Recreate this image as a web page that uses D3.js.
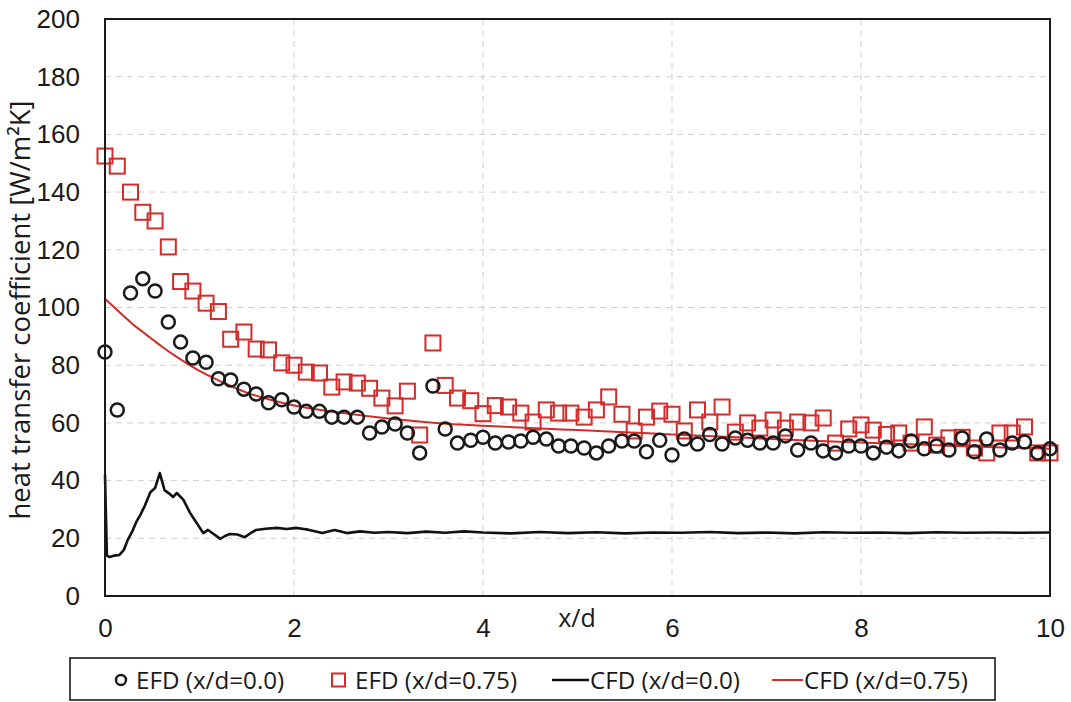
<!DOCTYPE html>
<html>
<head>
<meta charset="utf-8">
<script src="https://cdn.jsdelivr.net/npm/d3@7"></script>
<style>
  body { margin: 0; background: #fff; }
  svg { font-family: "Open Sans", Lato, sans-serif; }
  .grid line { stroke: #d0d0d0; stroke-dasharray: 6,5; stroke-width: 1; }
  .tick-label { font-size: 26px; fill: #1a1a1a; }
</style>
</head>
<body>
<svg id="chart" width="1071" height="702"></svg>
<script>
// x/d positions of the measurement stations
const efdX = [0.00,0.13,0.27,0.40,0.53,0.67,0.80,0.93,1.07,1.20,1.33,1.47,1.60,1.73,1.87,2.00,
  2.13,2.27,2.40,2.53,2.67,2.80,2.93,3.07,3.20,3.33,3.47,3.60,3.73,3.87,4.00,4.13,4.27,4.40,
  4.53,4.67,4.80,4.93,5.07,5.20,5.33,5.47,5.60,5.73,5.87,6.00,6.13,6.27,6.40,6.53,6.67,6.80,
  6.93,7.07,7.20,7.33,7.47,7.60,7.73,7.87,8.00,8.13,8.27,8.40,8.53,8.67,8.80,8.93,9.07,9.20,
  9.33,9.47,9.60,9.73,9.87,10.00];

// EFD at x/d=0.0 (circles)
const efd00 = [84.6,64.5,105,110,105.7,95,88,82.5,81,75.3,74.9,71.7,70,67,68,65.5,
  64,64,62,62,62,56.5,58.6,59.6,56.5,49.6,72.8,57.9,53,54,55,53,53.4,53.7,
  55,54.4,52,52,51.3,49.6,52,53.7,53.7,50,54,48.9,54.4,52.7,56,52.7,54.8,54,
  53,53,55.5,50.6,53,50.3,49.6,52,52,49.6,51.6,50.3,53.7,51,52,50.6,54.8,50,
  54.4,50.6,53,53.4,49.6,51];

// EFD at x/d=0.75 (squares)
const efd075 = [152.5,149,140,133,130,121,109,105.7,101.5,98.6,89,91.5,85.6,85.3,80.8,80,
  77.6,77.3,72.4,74.2,73.8,72,68.6,65.9,71,55.8,87.7,73,68.6,67.7,63.2,66,65.5,63.4,
  60.3,64.5,63.4,63.4,62,64.5,69,63,57.2,62,64.1,63,57.2,64.5,60.3,65.5,56.8,60,
  58.2,61,58.2,60.3,60,61.7,53,57.9,59.3,57.5,56,56.5,53,58.6,52.3,54.8,55,51.3,
  49.6,56.5,56.5,58.6,49.6,49.6];

// CFD at x/d=0.0 (black line)
const cfd00X = [0,0.02,0.05,0.10,0.15,0.20,0.24,0.29,0.33,0.38,0.42,0.48,0.53,0.58,0.63,0.68,
  0.72,0.76,0.83,0.90,0.97,1.04,1.09,1.15,1.22,1.27,1.32,1.40,1.48,1.55,1.60,1.70,1.82,1.92,
  2.03,2.15,2.30,2.43,2.56,2.70,2.85,3.00,3.20,3.40,3.60,3.80,4.00,4.30,4.60,4.90,5.20,5.50,
  5.80,6.10,6.40,6.70,7.00,7.30,7.60,7.90,8.20,8.50,8.80,9.10,9.40,9.70,10.00];
const cfd00 = [42,14,13.5,14,14.2,16,19.4,22.5,25.6,28.5,31.2,36,37.4,42.6,36.7,35.5,
  34.3,35.7,33.3,28.8,25.3,21.8,22.9,21.5,19.8,20.8,21.5,21.3,20.4,22,22.9,23.3,23.6,23.2,
  23.6,23,21.8,22.9,21.8,22.4,21.9,22.2,21.8,22.3,21.9,22.4,22,21.7,22.2,21.8,22.1,21.7,
  22,21.9,22.2,21.8,22,21.7,22.1,21.9,22,21.8,22.1,21.9,22,21.9,22];

// CFD at x/d=0.75 (red line)
const cfd075X = [0,0.1,0.2,0.3,0.4,0.5,0.6,0.8,1.0,1.25,1.5,1.75,2.0,2.5,3.0,3.5,4.0,4.5,
  5.0,5.5,6.0,6.5,7.0,7.5,8.0,8.5,9.0,9.5,10.0];
const cfd075 = [103,100,97,94,91.5,89,86.5,82,78,74,70.5,68,66,63.5,61.5,60,59,58.2,
  57.5,56.8,56,55.3,54.5,53.8,53.2,52.6,52,51.5,51];

const xTicks = [0, 2, 4, 6, 8, 10];
const yTicks = [0, 20, 40, 60, 80, 100, 120, 140, 160, 180, 200];

const legendItems = [
  {label: "EFD (x/d=0.0)", type: "circle"},
  {label: "EFD (x/d=0.75)", type: "square"},
  {label: "CFD (x/d=0.0)", type: "line", color: "#111"},
  {label: "CFD (x/d=0.75)", type: "line", color: "#d42b2b"}
];

const red = "#d42b2b";
const margin = {top: 19, right: 21, bottom: 106, left: 105};
const svg = d3.select("#chart");
const width = 1071 - margin.left - margin.right;
const height = 702 - margin.top - margin.bottom;

const x = d3.scaleLinear().domain([0, 10]).range([0, width]);
const y = d3.scaleLinear().domain([0, 200]).range([height, 0]);

const g = svg.append("g").attr("transform", `translate(${margin.left},${margin.top})`);

// grid
const grid = g.append("g").attr("class", "grid");
grid.selectAll(".hg").data(yTicks.slice(1, -1)).enter().append("line")
  .attr("x1", 0).attr("x2", width)
  .attr("y1", d => y(d)).attr("y2", d => y(d));
grid.selectAll(".vg").data(xTicks.slice(1, -1)).enter().append("line")
  .attr("y1", 0).attr("y2", height)
  .attr("x1", d => x(d)).attr("x2", d => x(d));

// tick labels via axes without tick marks
const yAxis = g.append("g").call(d3.axisLeft(y).tickValues(yTicks).tickSize(0).tickPadding(25));
const xAxis = g.append("g").attr("transform", `translate(0,${height})`)
  .call(d3.axisBottom(x).tickValues(xTicks).tickSize(0).tickPadding(23));
[yAxis, xAxis].forEach(a => {
  a.select(".domain").remove();
  a.selectAll("text").attr("class", "tick-label").attr("font-family", null).attr("font-size", null);
});

// CFD lines
const line = d3.line().x(d => x(d[0])).y(d => y(d[1]));
g.append("path")
  .datum(cfd00X.map((v, i) => [v, cfd00[i]]))
  .attr("d", line).attr("fill", "none")
  .attr("stroke", "#111").attr("stroke-width", 2.6).attr("stroke-linejoin", "round");
g.append("path")
  .datum(cfd075X.map((v, i) => [v, cfd075[i]]))
  .attr("d", d3.line().curve(d3.curveMonotoneX).x(d => x(d[0])).y(d => y(d[1])))
  .attr("fill", "none").attr("stroke", red).attr("stroke-width", 2);

// EFD squares
const sq = 15;
g.append("g").selectAll("rect")
  .data(efdX.map((v, i) => [v, efd075[i]]))
  .enter().append("rect")
  .attr("x", d => x(d[0]) - sq / 2).attr("y", d => y(d[1]) - sq / 2)
  .attr("width", sq).attr("height", sq)
  .attr("fill", "none").attr("stroke", red).attr("stroke-width", 2);

// EFD circles
g.append("g").selectAll("circle")
  .data(efdX.map((v, i) => [v, efd00[i]]))
  .enter().append("circle")
  .attr("cx", d => x(d[0])).attr("cy", d => y(d[1])).attr("r", 6.5)
  .attr("fill", "none").attr("stroke", "#1a1a1a").attr("stroke-width", 2.5);

// plot frame
g.append("rect").attr("width", width).attr("height", height)
  .attr("fill", "none").attr("stroke", "#1a1a1a").attr("stroke-width", 2);

// axis titles
svg.append("text")
  .attr("x", 577).attr("y", 627)
  .attr("text-anchor", "middle").attr("font-size", 25).attr("fill", "#1a1a1a")
  .text("x/d");
svg.append("text")
  .attr("transform", "translate(30,310) rotate(-90)")
  .attr("text-anchor", "middle").attr("font-size", 27.5).attr("fill", "#1a1a1a")
  .text("heat transfer coefficient [W/m²K]");

// legend
const legend = svg.append("g");
legend.append("rect")
  .attr("x", 70).attr("y", 658).attr("width", 925).attr("height", 42)
  .attr("fill", "#fff").attr("stroke", "#1a1a1a").attr("stroke-width", 1.6);
const legX = [114, 332, 552, 772];
legendItems.forEach((it, i) => {
  const lg = legend.append("g").attr("transform", `translate(${legX[i]},680)`);
  let tx;
  if (it.type === "circle") {
    lg.append("circle").attr("cx", 7).attr("cy", 0).attr("r", 5)
      .attr("fill", "none").attr("stroke", "#1a1a1a").attr("stroke-width", 2.4);
    tx = 22;
  } else if (it.type === "square") {
    lg.append("rect").attr("x", 0).attr("y", -6.5).attr("width", 13).attr("height", 13)
      .attr("fill", "none").attr("stroke", red).attr("stroke-width", 2);
    tx = 23;
  } else {
    lg.append("line").attr("x1", 0).attr("x2", i === 2 ? 37 : 31).attr("y1", 0).attr("y2", 0)
      .attr("stroke", it.color).attr("stroke-width", i === 2 ? 2.6 : 2);
    tx = i === 2 ? 38 : 32;
  }
  lg.append("text").attr("x", tx).attr("y", 9)
    .attr("font-size", 24.2).attr("fill", "#1a1a1a").text(it.label);
});
</script>
</body>
</html>
